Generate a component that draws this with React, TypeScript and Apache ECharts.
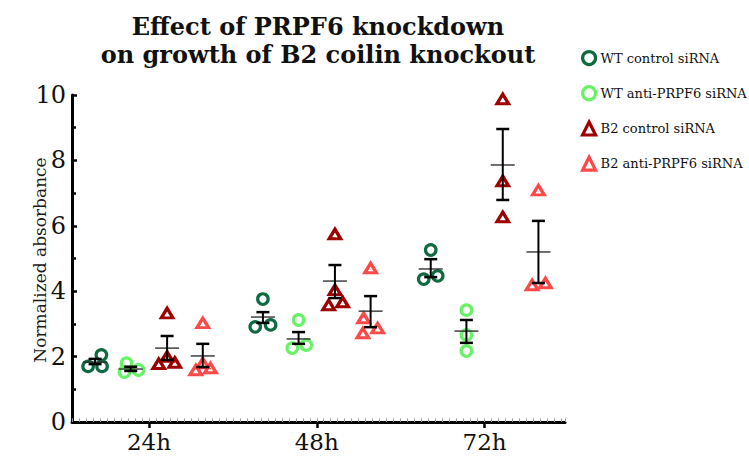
import React, { useEffect, useRef } from "react";
import * as echarts from "echarts";

// ---------- data ----------
const timepoints = [24, 48, 72];
const timeLabels = ["24h", "48h", "72h"];
const seriesNames = [
  "WT control siRNA",
  "WT anti-PRPF6 siRNA",
  "B2 control siRNA",
  "B2 anti-PRPF6 siRNA",
];

// replicate values per timepoint (24h, 48h, 72h)
const wtControlValues = [
  [1.7, 2.05, 1.7],
  [3.76, 2.91, 2.97],
  [5.26, 4.37, 4.47],
];
const wtAntiValues = [
  [1.8, 1.53, 1.59],
  [3.12, 2.26, 2.35],
  [3.42, 2.66, 2.17],
];
const b2ControlValues = [
  [3.33, 1.78, 2.0, 1.82],
  [5.75, 3.58, 4.04, 3.67],
  [9.88, 7.37, 6.27],
];
const b2AntiValues = [
  [3.03, 1.59, 1.8, 1.65],
  [4.71, 2.72, 3.18, 2.87],
  [7.09, 4.19, 4.25],
];

// horizontal scatter of overlapping replicates (hours)
const wtControlJitter = [
  [-1, 0.9, 1],
  [0, -1.1, 1.1],
  [0, -1, 1],
];
const wtAntiJitter = [
  [-0.6, -0.9, 1.1],
  [0, -0.9, 1.1],
  [0, 0, 0],
];
const b2ControlJitter = [
  [0, -1.2, 0, 1.1],
  [0, -0.9, 0, 1.1],
  [0, 0, 0],
];
const b2AntiJitter = [
  [0, -1, 0, 1.1],
  [0, -1.1, -1.0, 1.0],
  [0, -0.9, 1.0],
];

// mean and error bar (SEM) limits per timepoint
const wtControlMean = [1.83, 3.21, 4.68];
const wtControlLow = [1.77, 3.03, 4.43];
const wtControlHigh = [1.93, 3.36, 4.98];
const wtAntiMean = [1.62, 2.54, 2.78];
const wtAntiLow = [1.56, 2.39, 2.42];
const wtAntiHigh = [1.69, 2.75, 3.12];
const b2ControlMean = [2.26, 4.31, 7.86];
const b2ControlLow = [1.9, 3.79, 6.79];
const b2ControlHigh = [2.63, 4.8, 8.96];
const b2AntiMean = [2.02, 3.39, 5.2];
const b2AntiLow = [1.68, 2.9, 4.25];
const b2AntiHigh = [2.39, 3.85, 6.15];

const yTicks = [0, 2, 4, 6, 8, 10];

// ---------- styling / layout ----------
const colors = ["#0f6a40", "#66f466", "#9e0000", "#ff4848"];
const symbols = ["circle", "circle", "triangle", "triangle"];
const groupOffsets = [-7.7, -2.6, 2.6, 7.7];
const SERIF = "'DejaVu Serif', serif";

const allValues = [wtControlValues, wtAntiValues, b2ControlValues, b2AntiValues];
const allJitter = [wtControlJitter, wtAntiJitter, b2ControlJitter, b2AntiJitter];
const allMean = [wtControlMean, wtAntiMean, b2ControlMean, b2AntiMean];
const allLow = [wtControlLow, wtAntiLow, b2ControlLow, b2AntiLow];
const allHigh = [wtControlHigh, wtAntiHigh, b2ControlHigh, b2AntiHigh];

export default function App() {
  const ref = useRef<HTMLDivElement>(null);

  useEffect(() => {
    if (!ref.current) return;
    const chart = echarts.init(ref.current, undefined, { renderer: "svg" });

    const scatterSeries = seriesNames.map((name, s) => {
      const data: number[][] = [];
      timepoints.forEach((t, ti) => {
        allValues[s][ti].forEach((v, i) => {
          data.push([t + groupOffsets[s] + allJitter[s][ti][i], v]);
        });
      });
      return {
        name,
        type: "scatter",
        symbol: symbols[s],
        symbolSize: s < 2 ? 10.5 : [11.5, 9.5],
        itemStyle: {
          color: "rgba(255,255,255,0)",
          borderColor: colors[s],
          borderWidth: 3.2,
          opacity: 1,
        },
        emphasis: { disabled: true },
        data,
        z: 2,
      };
    });

    const errData: number[][] = [];
    seriesNames.forEach((_, s) => {
      timepoints.forEach((t, ti) => {
        errData.push([t + groupOffsets[s], allMean[s][ti], allLow[s][ti], allHigh[s][ti]]);
      });
    });

    const errorSeries = {
      type: "custom",
      name: "errors",
      z: 5,
      silent: true,
      encode: { x: 0, y: 1 },
      data: errData,
      renderItem: (_params: any, api: any) => {
        const x = api.value(0);
        const pm = api.coord([x, api.value(1)]);
        const plo = api.coord([x, api.value(2)]);
        const phi = api.coord([x, api.value(3)]);
        const cap = 6.5;
        const half = 12;
        return {
          type: "group",
          children: [
            {
              type: "line",
              shape: { x1: pm[0] - half, y1: pm[1], x2: pm[0] + half, y2: pm[1] },
              style: { stroke: "#333", lineWidth: 1.4 },
            },
            {
              type: "line",
              shape: { x1: plo[0], y1: plo[1], x2: phi[0], y2: phi[1] },
              style: { stroke: "#000", lineWidth: 2 },
            },
            {
              type: "line",
              shape: { x1: plo[0] - cap, y1: plo[1], x2: plo[0] + cap, y2: plo[1] },
              style: { stroke: "#000", lineWidth: 2.5 },
            },
            {
              type: "line",
              shape: { x1: phi[0] - cap, y1: phi[1], x2: phi[0] + cap, y2: phi[1] },
              style: { stroke: "#000", lineWidth: 2.5 },
            },
          ],
        };
      },
    };

    const option: any = {
      animation: false,
      backgroundColor: "#fff",
      grid: {
        left: 72,
        top: 95,
        width: 493,
        height: 327,
        containLabel: false,
        outerBoundsMode: "none",
      },
      graphic: [
        {
          type: "text",
          x: 318,
          y: 12,
          style: {
            text: "Effect of PRPF6 knockdown\non growth of B2 coilin knockout",
            fontFamily: SERIF,
            fontWeight: "bold",
            fontSize: 24,
            lineHeight: 28,
            fill: "#111",
            textAlign: "center",
            textVerticalAlign: "top",
          },
        },
        {
          type: "text",
          x: 40,
          y: 260,
          rotation: Math.PI / 2,
          style: {
            text: "Normalized absorbance",
            fontFamily: SERIF,
            fontSize: 17,
            fill: "#1a1a1a",
            textAlign: "center",
            textVerticalAlign: "middle",
          },
        },
      ],
      legend: {
        orient: "vertical",
        left: 576,
        top: 45,
        itemWidth: 13,
        itemHeight: 13,
        itemGap: 19,
        data: seriesNames,
        itemStyle: { borderWidth: 3.2 },
        textStyle: { fontFamily: SERIF, fontSize: 13, color: "#111" },
        selectedMode: false,
      },
      xAxis: [
        {
          type: "value",
          min: 13,
          max: 83.5,
          axisLine: { show: true, lineStyle: { color: "#000", width: 3 } },
          axisTick: {
            show: true,
            customValues: timepoints,
            length: 6,
            lineStyle: { color: "#000", width: 2.5 },
          },
          axisLabel: {
            customValues: timepoints,
            formatter: (v: number) => timeLabels[timepoints.indexOf(v)] ?? "",
            fontFamily: SERIF,
            fontSize: 23,
            color: "#111",
            margin: 8,
          },
          splitLine: { show: false },
        },
        {
          type: "value",
          min: 13,
          max: 83.5,
          interval: 1,
          position: "bottom",
          axisLine: { show: false },
          axisTick: {
            show: true,
            inside: true,
            length: 3.5,
            lineStyle: { color: "#999", width: 1 },
          },
          axisLabel: { show: false },
          splitLine: { show: false },
        },
      ],
      yAxis: {
        type: "value",
        min: 0,
        max: 10,
        interval: 2,
        axisLine: { show: true, lineStyle: { color: "#000", width: 3 } },
        axisTick: {
          show: true,
          inside: true,
          length: 5,
          lineStyle: { color: "#000", width: 2.5 },
        },
        minorTick: {
          show: true,
          splitNumber: 2,
          length: 4,
          lineStyle: { color: "#000", width: 2.5 },
        },
        axisLabel: {
          fontFamily: SERIF,
          fontSize: 24,
          color: "#111",
          margin: 6,
          formatter: (v: number) => (yTicks.includes(v) ? String(v) : ""),
        },
        splitLine: { show: false },
      },
      series: [...scatterSeries, errorSeries],
    };

    chart.setOption(option);
    return () => chart.dispose();
  }, []);

  return (
    <div
      ref={ref}
      style={{ position: "fixed", left: 0, top: 0, width: 749, height: 461 }}
    />
  );
}
